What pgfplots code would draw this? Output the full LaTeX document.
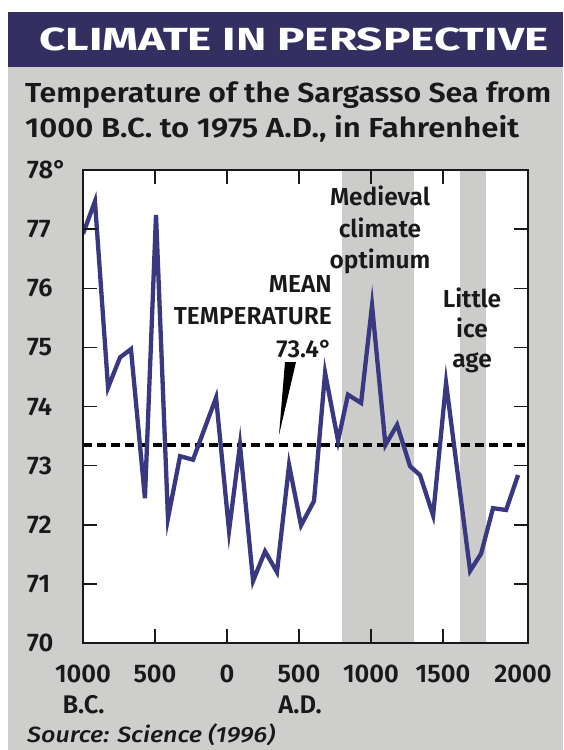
\documentclass[border=0pt]{standalone}
\usepackage{fontspec}
\usepackage{graphicx}
\usepackage{pgfplots}
\pgfplotsset{compat=1.18}

\setmainfont{Fira Sans}
\newcommand\heavy{\bfseries}
\IfFontExistsTF{Fira Sans SemiBold}
  {\newfontfamily\semi{Fira Sans SemiBold}}
  {\IfFontExistsTF{Fira Sans Semibold}
    {\newfontfamily\semi{Fira Sans Semibold}}
    {\IfFontExistsTF{Fira Sans Medium}
      {\newfontfamily\semi{Fira Sans Medium}}
      {\newcommand\semi{\bfseries}}}}
\IfFontExistsTF{Fira Sans Medium Italic}
  {\newfontfamily\srcfont{Fira Sans Medium Italic}}
  {\newcommand\srcfont{\itshape}}

\definecolor{header}{RGB}{51,47,97}
\definecolor{panel}{RGB}{206,207,205}
\definecolor{band}{RGB}{204,205,203}
\definecolor{trace}{RGB}{58,56,128}
\definecolor{ink}{RGB}{25,25,25}

\newcommand\tickfont{\semi\fontsize{25.5}{28}\selectfont}
\newcommand\notefont{\semi\fontsize{24.5}{28}\selectfont}

\begin{document}
\begin{tikzpicture}
% page, panel and title band (1pt = 1px of the reference)
\fill[white] (0,0) rectangle (563pt,-750pt);
\fill[panel] (8pt,-67pt) rectangle (563pt,-750pt);
\fill[header] (8pt,-12pt) rectangle (563pt,-67pt);
\node[anchor=base west, inner sep=0pt, text=white] at (39pt,-50pt)
  {\resizebox{509pt}{\height}{\heavy\fontsize{32}{36}\selectfont CLIMATE IN PERSPECTIVE}};
\node[anchor=base west, inner sep=0pt, text=ink] at (25pt,-102pt)
  {\resizebox{526pt}{\height}{\semi\fontsize{27.5}{30}\selectfont Temperature of the Sargasso Sea from}};
\node[anchor=base west, inner sep=0pt, text=ink] at (25pt,-137pt)
  {\resizebox{494pt}{\height}{\semi\fontsize{27.5}{30}\selectfont 1000 B.C. to 1975 A.D., in Fahrenheit}};

\begin{axis}[
  at={(83pt,-643pt)}, anchor=south west,
  scale only axis, width=445pt, height=473pt,
  xmin=-1000, xmax=2090, ymin=70, ymax=78,
  axis background/.style={fill=white},
  axis on top,
  axis line style={line width=1.5pt, ink},
  tick align=inside,
  major tick length=14pt,
  tick style={line width=1.5pt, ink},
  xtick={-1000,-500,0,500,1000,1500},
  xticklabels={1000,500,0,500,1000,1500},
  extra x ticks={2000}, extra x tick labels={2000},
  extra x tick style={major tick length=0pt, tick label style={xshift=8pt}},
  ytick={70,71,...,78},
  yticklabels={70,71,72,73,74,75,76,77,78°},
  xticklabel style={anchor=base, yshift=-39pt, inner sep=0pt, font=\tickfont, text=ink},
  yticklabel style={anchor=west, xshift=-56pt, inner sep=0pt, font=\tickfont, text=ink},
]
% Medieval climate optimum and Little ice age
\addplot[fill=band, draw=none] coordinates {(800,70) (800,78) (1300,78) (1300,70)};
\addplot[fill=band, draw=none] coordinates {(1620,70) (1620,78) (1800,78) (1800,70)};
% mean temperature
\addplot[black, line width=3.5pt, dash pattern=on 9pt off 5pt] coordinates {(-1000,73.35) (2070,73.35)};
% Sargasso Sea temperature
\addplot[trace, line width=4.3pt] coordinates {
  (-1000,76.92) (-917,77.47) (-826,74.32) (-743,74.83) (-667,74.97)
  (-570,72.45) (-493,77.24) (-410,72.11) (-326,73.16) (-236,73.10)
  (-76,74.15) (14,71.90) (90,73.35) (181,71.05) (264,71.55)
  (347,71.20) (431,73.01) (514,71.99) (604,72.40) (681,74.57)
  (771,73.42) (840,74.20) (931,74.06) (1007,75.71) (1100,73.35)
  (1181,73.69) (1271,72.99) (1340,72.84) (1431,72.16) (1521,74.40)
  (1688,71.22) (1764,71.51) (1847,72.28) (1938,72.25) (2021,72.84)
};
\end{axis}

% pointer to the mean line
\fill[black] (285pt,-362pt) -- (296pt,-362pt) -- (279pt,-435pt) -- cycle;

% annotations
\node[anchor=base east, inner sep=0pt, text=ink, font=\notefont] at (332pt,-292pt) {MEAN};
\node[anchor=base east, inner sep=0pt, text=ink, font=\notefont] at (332pt,-324pt) {TEMPERATURE};
\node[anchor=base east, inner sep=0pt, text=ink, font=\notefont] at (332pt,-357pt) {73.4°};
\node[anchor=base, inner sep=0pt, text=ink, font=\notefont] at (380pt,-205pt) {Medieval};
\node[anchor=base, inner sep=0pt, text=ink, font=\notefont] at (380pt,-237pt) {climate};
\node[anchor=base, inner sep=0pt, text=ink, font=\notefont] at (380pt,-268pt) {optimum};
\node[anchor=base, inner sep=0pt, text=ink, font=\notefont] at (472pt,-307pt) {Little};
\node[anchor=base, inner sep=0pt, text=ink, font=\notefont] at (472pt,-337pt) {ice};
\node[anchor=base, inner sep=0pt, text=ink, font=\notefont] at (472pt,-367pt) {age};

% era names under the x tick labels
\node[anchor=base, inner sep=0pt, text=ink, font=\tickfont] at (83.5pt,-713pt) {B.C.};
\node[anchor=base, inner sep=0pt, text=ink, font=\tickfont] at (300pt,-713pt) {A.D.};

% source
\node[anchor=base west, inner sep=0pt, text=ink] at (27pt,-742pt)
  {\resizebox{248pt}{\height}{\srcfont\fontsize{22}{24}\selectfont Source: Science (1996)}};
\end{tikzpicture}
\end{document}
